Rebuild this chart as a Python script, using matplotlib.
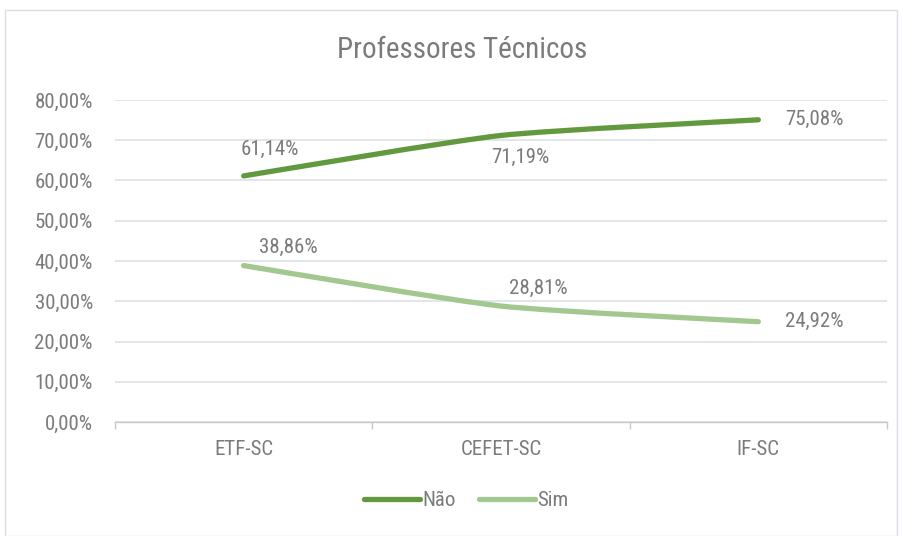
import matplotlib
matplotlib.use("Agg")
import matplotlib.pyplot as plt
from matplotlib.patches import Rectangle, PathPatch
from matplotlib.path import Path
from matplotlib.lines import Line2D
from matplotlib import font_manager

categories = ["ETF-SC", "CEFET-SC", "IF-SC"]
nao = [61.14, 71.19, 75.08]
sim = [38.86, 28.81, 24.92]
yticks = [0, 10, 20, 30, 40, 50, 60, 70, 80]

names = {f.name for f in font_manager.fontManager.ttflist}
fam = [f for f in ["Roboto Condensed", "Archivo Narrow", "Liberation Sans", "DejaVu Sans"] if f in names]
plt.rcParams["font.family"] = fam

TXT = "#7b7b7b"
C_NAO = "#62993e"
C_SIM = "#a2c78f"
GRID = "#dde1e8"
FS = 15

fig = plt.figure(figsize=(9.03, 5.36), dpi=100)
fig.patches.append(Rectangle((5/903, 0), 892/903, 526/536, transform=fig.transFigure,
                             fill=False, edgecolor="#d9dde6", lw=1.0))
ax = fig.add_axes([115/903, 114/536, 772/903, 322/536])
x = list(range(len(categories)))


def smooth_path(xs, ys, k=10.0):
    pts = list(zip(xs, ys))
    verts = [pts[0]]
    codes = [Path.MOVETO]
    n = len(pts)
    for i in range(n - 1):
        p0 = pts[i - 1] if i > 0 else pts[i]
        p1 = pts[i]
        p2 = pts[i + 1]
        p3 = pts[i + 2] if i + 2 < n else pts[i + 1]
        c1 = (p1[0] + (p2[0] - p0[0]) / k, p1[1] + (p2[1] - p0[1]) / k)
        c2 = (p2[0] - (p3[0] - p1[0]) / k, p2[1] - (p3[1] - p1[1]) / k)
        verts += [c1, c2, p2]
        codes += [Path.CURVE4] * 3
    return Path(verts, codes)


for ys, c in [(nao, C_NAO), (sim, C_SIM)]:
    patch = PathPatch(smooth_path(x, ys), facecolor="none", edgecolor=c, lw=3.8,
                      capstyle="round", joinstyle="round", zorder=3)
    ax.add_patch(patch)

ax.set_xlim(-0.5, 2.5)
ax.set_ylim(0, 80)
ax.set_yticks(yticks)
ax.set_yticklabels([f"{v:.2f}%".replace(".", ",") for v in yticks], fontsize=FS, color=TXT)
ax.set_xticks(x)
ax.set_xticklabels(categories, fontsize=FS, color=TXT)
ax.tick_params(axis="y", length=0, pad=16)
ax.tick_params(axis="x", which="major", length=0, pad=13)
ax.set_xticks([-0.5, 0.5, 1.5, 2.5], minor=True)
ax.tick_params(axis="x", which="minor", length=5, color="#c8c8c8", width=1)
ax.grid(axis="y", color=GRID, lw=1.2, zorder=0)
for s in ["top", "right", "left"]:
    ax.spines[s].set_visible(False)
ax.spines["bottom"].set_color("#c8c8c8")
ax.spines["bottom"].set_linewidth(1.0)


def fmt(v):
    return f"{v:.2f}%".replace(".", ",")


# data labels (offsets in points)
offs_nao = [(19, 19), (14, -16), (40, 0)]
offs_sim = [(32, 13), (27, 13), (40, 0)]
for i in x:
    ax.annotate(fmt(nao[i]), (i, nao[i]), xytext=offs_nao[i], textcoords="offset points",
                ha="center", va="center", fontsize=FS, color=TXT)
    ax.annotate(fmt(sim[i]), (i, sim[i]), xytext=offs_sim[i], textcoords="offset points",
                ha="center", va="center", fontsize=FS, color=TXT)

fig.text(462/903, 1 - 50/536, "Professores Técnicos", ha="center", va="center",
         fontsize=21, color=TXT)

handles = [Line2D([], [], color=C_NAO, lw=3.8, solid_capstyle="round"),
           Line2D([], [], color=C_SIM, lw=3.8, solid_capstyle="round")]
fig.legend(handles, ["Não", "Sim"], loc="center", bbox_to_anchor=(466/903, 1 - 501/536),
           ncol=2, frameon=False, fontsize=FS, labelcolor=TXT, handlelength=2.7,
           handletextpad=0.1, columnspacing=1.1)

fig.savefig("out.png", dpi=100)
